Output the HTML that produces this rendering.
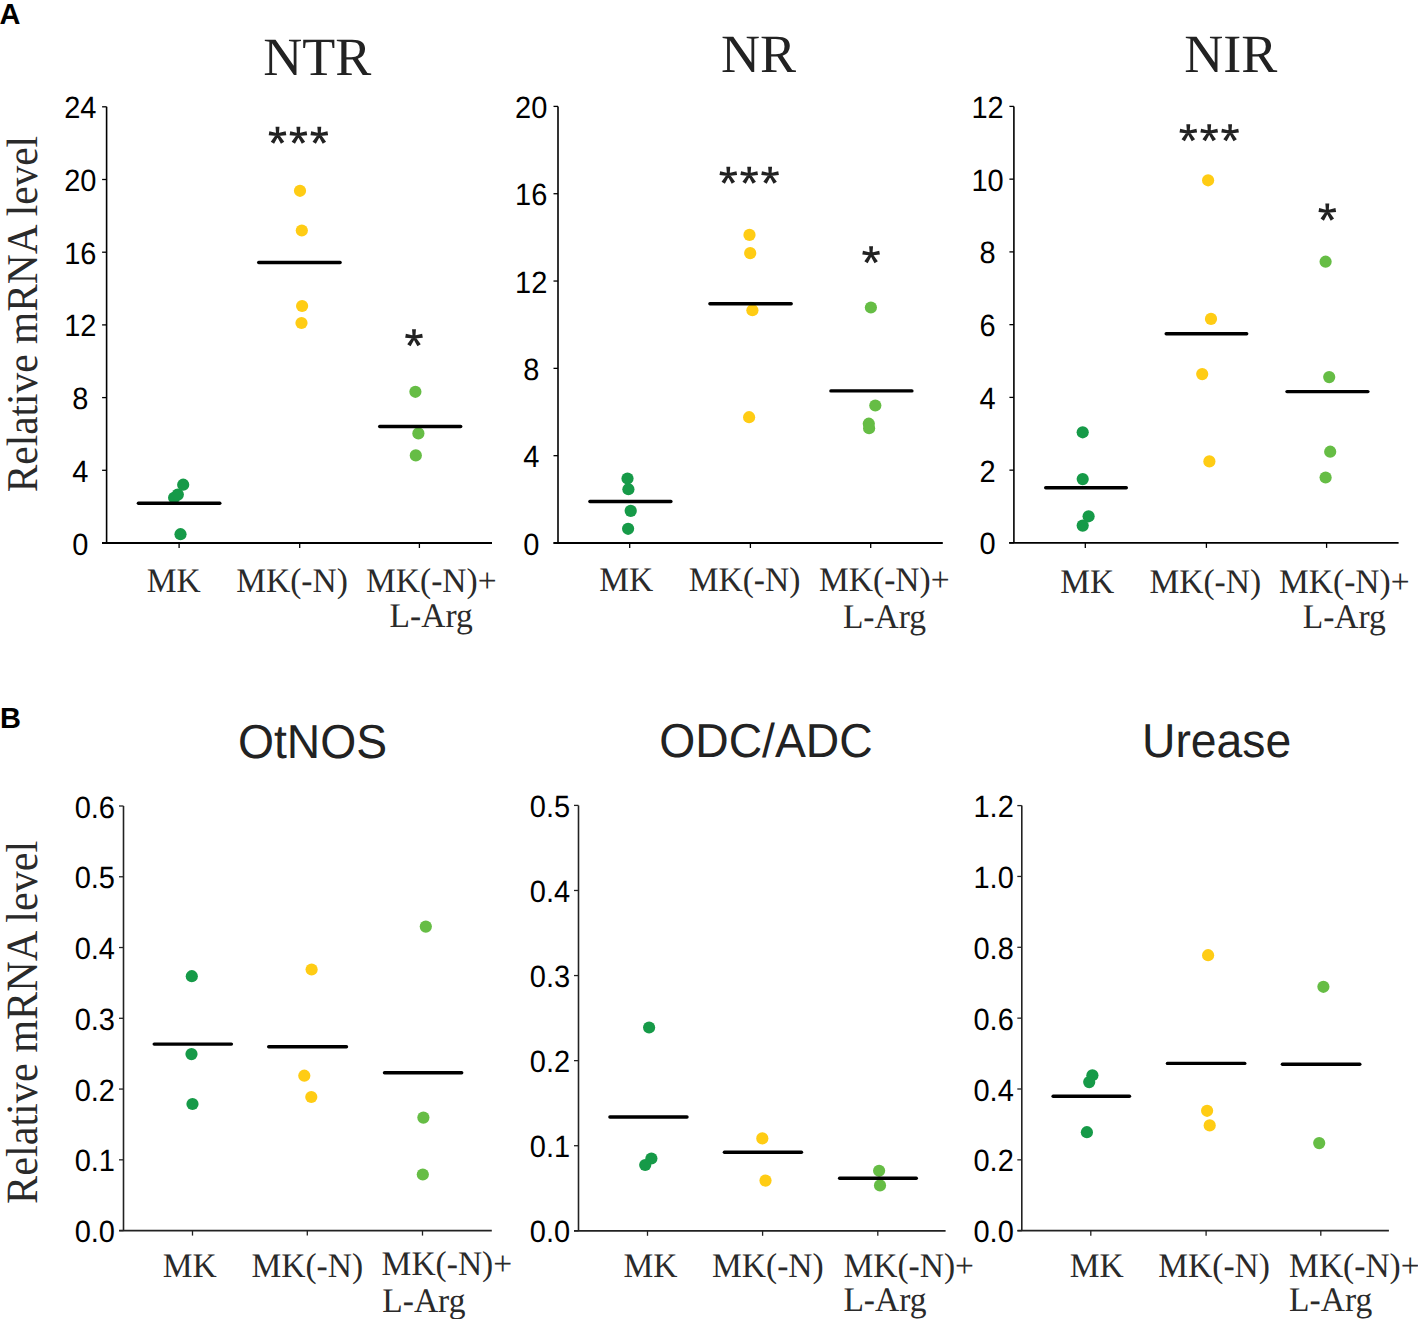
<!DOCTYPE html>
<html><head><meta charset="utf-8"><style>
html,body{margin:0;padding:0;background:#fff;width:1418px;height:1319px;overflow:hidden}
svg{display:block} text{text-rendering:geometricPrecision}
</style></head><body>
<svg width="1418" height="1319" viewBox="0 0 1418 1319">
<rect width="1418" height="1319" fill="#fff"/>
<line x1="106.6" y1="106.8" x2="106.6" y2="543.0" stroke="#000" stroke-width="1.6" stroke-linecap="butt"/>
<line x1="102" y1="543.0" x2="492" y2="543.0" stroke="#000" stroke-width="1.8" stroke-linecap="butt"/>
<line x1="102.1" y1="543.0" x2="106.6" y2="543.0" stroke="#000" stroke-width="1.3" stroke-linecap="butt"/>
<text transform="translate(80.3,554.50) scale(1,1.06)" x="0" y="0" font-family="Liberation Sans" font-size="29" text-anchor="middle" fill="#000">0</text>
<line x1="102.1" y1="470.3" x2="106.6" y2="470.3" stroke="#000" stroke-width="1.3" stroke-linecap="butt"/>
<text transform="translate(80.3,481.80) scale(1,1.06)" x="0" y="0" font-family="Liberation Sans" font-size="29" text-anchor="middle" fill="#000">4</text>
<line x1="102.1" y1="397.6" x2="106.6" y2="397.6" stroke="#000" stroke-width="1.3" stroke-linecap="butt"/>
<text transform="translate(80.3,409.10) scale(1,1.06)" x="0" y="0" font-family="Liberation Sans" font-size="29" text-anchor="middle" fill="#000">8</text>
<line x1="102.1" y1="324.9" x2="106.6" y2="324.9" stroke="#000" stroke-width="1.3" stroke-linecap="butt"/>
<text transform="translate(80.3,336.40) scale(1,1.06)" x="0" y="0" font-family="Liberation Sans" font-size="29" text-anchor="middle" fill="#000">12</text>
<line x1="102.1" y1="252.2" x2="106.6" y2="252.2" stroke="#000" stroke-width="1.3" stroke-linecap="butt"/>
<text transform="translate(80.3,263.70) scale(1,1.06)" x="0" y="0" font-family="Liberation Sans" font-size="29" text-anchor="middle" fill="#000">16</text>
<line x1="102.1" y1="179.5" x2="106.6" y2="179.5" stroke="#000" stroke-width="1.3" stroke-linecap="butt"/>
<text transform="translate(80.3,191.00) scale(1,1.06)" x="0" y="0" font-family="Liberation Sans" font-size="29" text-anchor="middle" fill="#000">20</text>
<line x1="102.1" y1="106.80000000000001" x2="106.6" y2="106.80000000000001" stroke="#000" stroke-width="1.3" stroke-linecap="butt"/>
<text transform="translate(80.3,118.30) scale(1,1.06)" x="0" y="0" font-family="Liberation Sans" font-size="29" text-anchor="middle" fill="#000">24</text>
<line x1="179.1" y1="543.0" x2="179.1" y2="548.0" stroke="#000" stroke-width="1.3" stroke-linecap="butt"/>
<line x1="299.7" y1="543.0" x2="299.7" y2="548.0" stroke="#000" stroke-width="1.3" stroke-linecap="butt"/>
<line x1="419.4" y1="543.0" x2="419.4" y2="548.0" stroke="#000" stroke-width="1.3" stroke-linecap="butt"/>
<text transform="translate(263.3,74.9) scale(1,1.0)" x="0" y="0" font-family="Liberation Serif" font-size="54" fill="#222">NTR</text>
<text transform="translate(146.8,591.80) scale(1,1.03)" x="0" y="0" font-family="Liberation Serif" font-size="33.5" fill="#2a2a2a">MK</text>
<text transform="translate(236.2,591.80) scale(1,1.03)" x="0" y="0" font-family="Liberation Serif" font-size="33.5" fill="#2a2a2a">MK(-N)</text>
<text transform="translate(366,591.80) scale(1,1.03)" x="0" y="0" font-family="Liberation Serif" font-size="33.5" fill="#2a2a2a">MK(-N)+</text>
<text transform="translate(389.6,627.30) scale(1,1.03)" x="0" y="0" font-family="Liberation Serif" font-size="33.5" fill="#2a2a2a">L-Arg</text>
<circle cx="180.5" cy="534.2" r="6.1" fill="#169a48"/>
<circle cx="174.1" cy="497.8" r="6.1" fill="#169a48"/>
<circle cx="177.8" cy="494.6" r="6.1" fill="#169a48"/>
<circle cx="183.2" cy="484.7" r="6.1" fill="#169a48"/>
<circle cx="300" cy="190.8" r="6.1" fill="#ffcc14"/>
<circle cx="301.8" cy="230.5" r="6.1" fill="#ffcc14"/>
<circle cx="302.1" cy="306" r="6.1" fill="#ffcc14"/>
<circle cx="301.5" cy="323" r="6.1" fill="#ffcc14"/>
<circle cx="415.4" cy="391.8" r="6.1" fill="#66bd45"/>
<circle cx="418.4" cy="433.4" r="6.1" fill="#66bd45"/>
<circle cx="415.8" cy="455.4" r="6.1" fill="#66bd45"/>
<line x1="138.39999999999998" y1="503.3" x2="219.8" y2="503.3" stroke="#000" stroke-width="3.4" stroke-linecap="round"/>
<line x1="258.7" y1="262.5" x2="340.1" y2="262.5" stroke="#000" stroke-width="3.4" stroke-linecap="round"/>
<line x1="379.7" y1="426.5" x2="460.7" y2="426.5" stroke="#000" stroke-width="3.4" stroke-linecap="round"/>
<line x1="558" y1="106.4" x2="558" y2="543.0" stroke="#000" stroke-width="1.6" stroke-linecap="butt"/>
<line x1="553.5" y1="543.0" x2="942.8" y2="543.0" stroke="#000" stroke-width="1.8" stroke-linecap="butt"/>
<line x1="553.5" y1="543.0" x2="558" y2="543.0" stroke="#000" stroke-width="1.3" stroke-linecap="butt"/>
<text transform="translate(531.2,554.50) scale(1,1.06)" x="0" y="0" font-family="Liberation Sans" font-size="29" text-anchor="middle" fill="#000">0</text>
<line x1="553.5" y1="455.68" x2="558" y2="455.68" stroke="#000" stroke-width="1.3" stroke-linecap="butt"/>
<text transform="translate(531.2,467.18) scale(1,1.06)" x="0" y="0" font-family="Liberation Sans" font-size="29" text-anchor="middle" fill="#000">4</text>
<line x1="553.5" y1="368.36" x2="558" y2="368.36" stroke="#000" stroke-width="1.3" stroke-linecap="butt"/>
<text transform="translate(531.2,379.86) scale(1,1.06)" x="0" y="0" font-family="Liberation Sans" font-size="29" text-anchor="middle" fill="#000">8</text>
<line x1="553.5" y1="281.03999999999996" x2="558" y2="281.03999999999996" stroke="#000" stroke-width="1.3" stroke-linecap="butt"/>
<text transform="translate(531.2,292.54) scale(1,1.06)" x="0" y="0" font-family="Liberation Sans" font-size="29" text-anchor="middle" fill="#000">12</text>
<line x1="553.5" y1="193.71999999999997" x2="558" y2="193.71999999999997" stroke="#000" stroke-width="1.3" stroke-linecap="butt"/>
<text transform="translate(531.2,205.22) scale(1,1.06)" x="0" y="0" font-family="Liberation Sans" font-size="29" text-anchor="middle" fill="#000">16</text>
<line x1="553.5" y1="106.39999999999998" x2="558" y2="106.39999999999998" stroke="#000" stroke-width="1.3" stroke-linecap="butt"/>
<text transform="translate(531.2,117.90) scale(1,1.06)" x="0" y="0" font-family="Liberation Sans" font-size="29" text-anchor="middle" fill="#000">20</text>
<line x1="629.7" y1="543.0" x2="629.7" y2="548.0" stroke="#000" stroke-width="1.3" stroke-linecap="butt"/>
<line x1="750.4" y1="543.0" x2="750.4" y2="548.0" stroke="#000" stroke-width="1.3" stroke-linecap="butt"/>
<line x1="870.7" y1="543.0" x2="870.7" y2="548.0" stroke="#000" stroke-width="1.3" stroke-linecap="butt"/>
<text transform="translate(720.9,72.3) scale(1,1.0)" x="0" y="0" font-family="Liberation Serif" font-size="54" fill="#222">NR</text>
<text transform="translate(599.3,591.20) scale(1,1.03)" x="0" y="0" font-family="Liberation Serif" font-size="33.5" fill="#2a2a2a">MK</text>
<text transform="translate(688.7,591.20) scale(1,1.03)" x="0" y="0" font-family="Liberation Serif" font-size="33.5" fill="#2a2a2a">MK(-N)</text>
<text transform="translate(819,591.20) scale(1,1.03)" x="0" y="0" font-family="Liberation Serif" font-size="33.5" fill="#2a2a2a">MK(-N)+</text>
<text transform="translate(842.9,627.80) scale(1,1.03)" x="0" y="0" font-family="Liberation Serif" font-size="33.5" fill="#2a2a2a">L-Arg</text>
<circle cx="627.5" cy="478.5" r="6.1" fill="#169a48"/>
<circle cx="628.4" cy="489.2" r="6.1" fill="#169a48"/>
<circle cx="630.7" cy="510.9" r="6.1" fill="#169a48"/>
<circle cx="628.1" cy="528.8" r="6.1" fill="#169a48"/>
<circle cx="749.5" cy="234.9" r="6.1" fill="#ffcc14"/>
<circle cx="750.2" cy="253.1" r="6.1" fill="#ffcc14"/>
<circle cx="752.4" cy="310.2" r="6.1" fill="#ffcc14"/>
<circle cx="749.1" cy="417.2" r="6.1" fill="#ffcc14"/>
<circle cx="870.9" cy="307.5" r="6.1" fill="#66bd45"/>
<circle cx="875.3" cy="405.5" r="6.1" fill="#66bd45"/>
<circle cx="868.8" cy="423.7" r="6.1" fill="#66bd45"/>
<circle cx="869.1" cy="428.2" r="6.1" fill="#66bd45"/>
<line x1="589.9000000000001" y1="501.5" x2="670.9" y2="501.5" stroke="#000" stroke-width="3.4" stroke-linecap="round"/>
<line x1="709.9000000000001" y1="303.7" x2="791.1999999999999" y2="303.7" stroke="#000" stroke-width="3.4" stroke-linecap="round"/>
<line x1="830.9000000000001" y1="390.9" x2="911.9" y2="390.9" stroke="#000" stroke-width="3.4" stroke-linecap="round"/>
<line x1="1013.9" y1="106.4" x2="1013.9" y2="542.9" stroke="#000" stroke-width="1.6" stroke-linecap="butt"/>
<line x1="1009.1" y1="542.9" x2="1398.6" y2="542.9" stroke="#000" stroke-width="1.8" stroke-linecap="butt"/>
<line x1="1009.4" y1="542.9" x2="1013.9" y2="542.9" stroke="#000" stroke-width="1.3" stroke-linecap="butt"/>
<text transform="translate(987.6,554.40) scale(1,1.06)" x="0" y="0" font-family="Liberation Sans" font-size="29" text-anchor="middle" fill="#000">0</text>
<line x1="1009.4" y1="470.15" x2="1013.9" y2="470.15" stroke="#000" stroke-width="1.3" stroke-linecap="butt"/>
<text transform="translate(987.6,481.65) scale(1,1.06)" x="0" y="0" font-family="Liberation Sans" font-size="29" text-anchor="middle" fill="#000">2</text>
<line x1="1009.4" y1="397.4" x2="1013.9" y2="397.4" stroke="#000" stroke-width="1.3" stroke-linecap="butt"/>
<text transform="translate(987.6,408.90) scale(1,1.06)" x="0" y="0" font-family="Liberation Sans" font-size="29" text-anchor="middle" fill="#000">4</text>
<line x1="1009.4" y1="324.65" x2="1013.9" y2="324.65" stroke="#000" stroke-width="1.3" stroke-linecap="butt"/>
<text transform="translate(987.6,336.15) scale(1,1.06)" x="0" y="0" font-family="Liberation Sans" font-size="29" text-anchor="middle" fill="#000">6</text>
<line x1="1009.4" y1="251.89999999999998" x2="1013.9" y2="251.89999999999998" stroke="#000" stroke-width="1.3" stroke-linecap="butt"/>
<text transform="translate(987.6,263.40) scale(1,1.06)" x="0" y="0" font-family="Liberation Sans" font-size="29" text-anchor="middle" fill="#000">8</text>
<line x1="1009.4" y1="179.14999999999998" x2="1013.9" y2="179.14999999999998" stroke="#000" stroke-width="1.3" stroke-linecap="butt"/>
<text transform="translate(987.6,190.65) scale(1,1.06)" x="0" y="0" font-family="Liberation Sans" font-size="29" text-anchor="middle" fill="#000">10</text>
<line x1="1009.4" y1="106.39999999999998" x2="1013.9" y2="106.39999999999998" stroke="#000" stroke-width="1.3" stroke-linecap="butt"/>
<text transform="translate(987.6,117.90) scale(1,1.06)" x="0" y="0" font-family="Liberation Sans" font-size="29" text-anchor="middle" fill="#000">12</text>
<line x1="1085.3" y1="542.9" x2="1085.3" y2="547.9" stroke="#000" stroke-width="1.3" stroke-linecap="butt"/>
<line x1="1206.4" y1="542.9" x2="1206.4" y2="547.9" stroke="#000" stroke-width="1.3" stroke-linecap="butt"/>
<line x1="1326.6" y1="542.9" x2="1326.6" y2="547.9" stroke="#000" stroke-width="1.3" stroke-linecap="butt"/>
<text transform="translate(1184.3,71.9) scale(1,1.0)" x="0" y="0" font-family="Liberation Serif" font-size="54" fill="#222">NIR</text>
<text transform="translate(1060.3,592.50) scale(1,1.03)" x="0" y="0" font-family="Liberation Serif" font-size="33.5" fill="#2a2a2a">MK</text>
<text transform="translate(1149.4,592.50) scale(1,1.03)" x="0" y="0" font-family="Liberation Serif" font-size="33.5" fill="#2a2a2a">MK(-N)</text>
<text transform="translate(1279,592.50) scale(1,1.03)" x="0" y="0" font-family="Liberation Serif" font-size="33.5" fill="#2a2a2a">MK(-N)+</text>
<text transform="translate(1302.7,628.40) scale(1,1.03)" x="0" y="0" font-family="Liberation Serif" font-size="33.5" fill="#2a2a2a">L-Arg</text>
<circle cx="1082.7" cy="432.3" r="6.1" fill="#169a48"/>
<circle cx="1082.7" cy="479.1" r="6.1" fill="#169a48"/>
<circle cx="1088.6" cy="516.3" r="6.1" fill="#169a48"/>
<circle cx="1082.7" cy="525.6" r="6.1" fill="#169a48"/>
<circle cx="1208.1" cy="180.3" r="6.1" fill="#ffcc14"/>
<circle cx="1211" cy="318.9" r="6.1" fill="#ffcc14"/>
<circle cx="1202.2" cy="374.1" r="6.1" fill="#ffcc14"/>
<circle cx="1209.4" cy="461.4" r="6.1" fill="#ffcc14"/>
<circle cx="1325.6" cy="261.7" r="6.1" fill="#66bd45"/>
<circle cx="1329.2" cy="377.1" r="6.1" fill="#66bd45"/>
<circle cx="1330.2" cy="451.7" r="6.1" fill="#66bd45"/>
<circle cx="1325.6" cy="477.5" r="6.1" fill="#66bd45"/>
<line x1="1045.7" y1="487.8" x2="1126.3" y2="487.8" stroke="#000" stroke-width="3.4" stroke-linecap="round"/>
<line x1="1166.2" y1="333.8" x2="1246.7" y2="333.8" stroke="#000" stroke-width="3.4" stroke-linecap="round"/>
<line x1="1287.0" y1="391.6" x2="1367.8999999999999" y2="391.6" stroke="#000" stroke-width="3.4" stroke-linecap="round"/>
<line x1="123.5" y1="806" x2="123.5" y2="1230.6" stroke="#222" stroke-width="1.6" stroke-linecap="butt"/>
<line x1="119.2" y1="1230.6" x2="491.8" y2="1230.6" stroke="#222" stroke-width="1.8" stroke-linecap="butt"/>
<line x1="119.0" y1="1230.6" x2="123.5" y2="1230.6" stroke="#222" stroke-width="1.3" stroke-linecap="butt"/>
<text transform="translate(115,1242.10) scale(1,1.06)" x="0" y="0" font-family="Liberation Sans" font-size="29" text-anchor="end" fill="#000">0.0</text>
<line x1="119.0" y1="1159.8333333333333" x2="123.5" y2="1159.8333333333333" stroke="#222" stroke-width="1.3" stroke-linecap="butt"/>
<text transform="translate(115,1171.33) scale(1,1.06)" x="0" y="0" font-family="Liberation Sans" font-size="29" text-anchor="end" fill="#000">0.1</text>
<line x1="119.0" y1="1089.0666666666666" x2="123.5" y2="1089.0666666666666" stroke="#222" stroke-width="1.3" stroke-linecap="butt"/>
<text transform="translate(115,1100.57) scale(1,1.06)" x="0" y="0" font-family="Liberation Sans" font-size="29" text-anchor="end" fill="#000">0.2</text>
<line x1="119.0" y1="1018.3" x2="123.5" y2="1018.3" stroke="#222" stroke-width="1.3" stroke-linecap="butt"/>
<text transform="translate(115,1029.80) scale(1,1.06)" x="0" y="0" font-family="Liberation Sans" font-size="29" text-anchor="end" fill="#000">0.3</text>
<line x1="119.0" y1="947.5333333333333" x2="123.5" y2="947.5333333333333" stroke="#222" stroke-width="1.3" stroke-linecap="butt"/>
<text transform="translate(115,959.03) scale(1,1.06)" x="0" y="0" font-family="Liberation Sans" font-size="29" text-anchor="end" fill="#000">0.4</text>
<line x1="119.0" y1="876.7666666666667" x2="123.5" y2="876.7666666666667" stroke="#222" stroke-width="1.3" stroke-linecap="butt"/>
<text transform="translate(115,888.27) scale(1,1.06)" x="0" y="0" font-family="Liberation Sans" font-size="29" text-anchor="end" fill="#000">0.5</text>
<line x1="119.0" y1="806.0" x2="123.5" y2="806.0" stroke="#222" stroke-width="1.3" stroke-linecap="butt"/>
<text transform="translate(115,817.50) scale(1,1.06)" x="0" y="0" font-family="Liberation Sans" font-size="29" text-anchor="end" fill="#000">0.6</text>
<line x1="192.5" y1="1230.6" x2="192.5" y2="1235.6" stroke="#222" stroke-width="1.3" stroke-linecap="butt"/>
<line x1="307.3" y1="1230.6" x2="307.3" y2="1235.6" stroke="#222" stroke-width="1.3" stroke-linecap="butt"/>
<line x1="422.5" y1="1230.6" x2="422.5" y2="1235.6" stroke="#222" stroke-width="1.3" stroke-linecap="butt"/>
<text transform="translate(238,757.5) scale(1,1.03)" x="0" y="0" font-family="Liberation Sans" font-size="46.3" fill="#222">OtNOS</text>
<text transform="translate(162.8,1277.00) scale(1,1.03)" x="0" y="0" font-family="Liberation Serif" font-size="33.5" fill="#2a2a2a">MK</text>
<text transform="translate(251.4,1277.00) scale(1,1.03)" x="0" y="0" font-family="Liberation Serif" font-size="33.5" fill="#2a2a2a">MK(-N)</text>
<text transform="translate(381.6,1275.00) scale(1,1.03)" x="0" y="0" font-family="Liberation Serif" font-size="33.5" fill="#2a2a2a">MK(-N)+</text>
<text transform="translate(382.3,1312.40) scale(1,1.03)" x="0" y="0" font-family="Liberation Serif" font-size="33.5" fill="#2a2a2a">L-Arg</text>
<circle cx="191.8" cy="976.2" r="6.1" fill="#169a48"/>
<circle cx="191.5" cy="1054.1" r="6.1" fill="#169a48"/>
<circle cx="192.5" cy="1104" r="6.1" fill="#169a48"/>
<circle cx="311.6" cy="969.5" r="6.1" fill="#ffcc14"/>
<circle cx="304.3" cy="1075.7" r="6.1" fill="#ffcc14"/>
<circle cx="311.3" cy="1097" r="6.1" fill="#ffcc14"/>
<circle cx="425.8" cy="926.6" r="6.1" fill="#66bd45"/>
<circle cx="423.4" cy="1117.6" r="6.1" fill="#66bd45"/>
<circle cx="422.8" cy="1174.5" r="6.1" fill="#66bd45"/>
<line x1="154.2" y1="1044.1" x2="231.4" y2="1044.1" stroke="#000" stroke-width="3.4" stroke-linecap="round"/>
<line x1="268.7" y1="1046.7" x2="346.5" y2="1046.7" stroke="#000" stroke-width="3.4" stroke-linecap="round"/>
<line x1="384.5" y1="1072.7" x2="461.7" y2="1072.7" stroke="#000" stroke-width="3.4" stroke-linecap="round"/>
<line x1="578.5" y1="805.4" x2="578.5" y2="1230.8" stroke="#222" stroke-width="1.6" stroke-linecap="butt"/>
<line x1="574" y1="1230.8" x2="945.6" y2="1230.8" stroke="#222" stroke-width="1.8" stroke-linecap="butt"/>
<line x1="574.0" y1="1230.8" x2="578.5" y2="1230.8" stroke="#222" stroke-width="1.3" stroke-linecap="butt"/>
<text transform="translate(570.2,1242.30) scale(1,1.06)" x="0" y="0" font-family="Liberation Sans" font-size="29" text-anchor="end" fill="#000">0.0</text>
<line x1="574.0" y1="1145.72" x2="578.5" y2="1145.72" stroke="#222" stroke-width="1.3" stroke-linecap="butt"/>
<text transform="translate(570.2,1157.22) scale(1,1.06)" x="0" y="0" font-family="Liberation Sans" font-size="29" text-anchor="end" fill="#000">0.1</text>
<line x1="574.0" y1="1060.6399999999999" x2="578.5" y2="1060.6399999999999" stroke="#222" stroke-width="1.3" stroke-linecap="butt"/>
<text transform="translate(570.2,1072.14) scale(1,1.06)" x="0" y="0" font-family="Liberation Sans" font-size="29" text-anchor="end" fill="#000">0.2</text>
<line x1="574.0" y1="975.56" x2="578.5" y2="975.56" stroke="#222" stroke-width="1.3" stroke-linecap="butt"/>
<text transform="translate(570.2,987.06) scale(1,1.06)" x="0" y="0" font-family="Liberation Sans" font-size="29" text-anchor="end" fill="#000">0.3</text>
<line x1="574.0" y1="890.48" x2="578.5" y2="890.48" stroke="#222" stroke-width="1.3" stroke-linecap="butt"/>
<text transform="translate(570.2,901.98) scale(1,1.06)" x="0" y="0" font-family="Liberation Sans" font-size="29" text-anchor="end" fill="#000">0.4</text>
<line x1="574.0" y1="805.4" x2="578.5" y2="805.4" stroke="#222" stroke-width="1.3" stroke-linecap="butt"/>
<text transform="translate(570.2,816.90) scale(1,1.06)" x="0" y="0" font-family="Liberation Sans" font-size="29" text-anchor="end" fill="#000">0.5</text>
<line x1="647.5" y1="1230.8" x2="647.5" y2="1235.8" stroke="#222" stroke-width="1.3" stroke-linecap="butt"/>
<line x1="762.6" y1="1230.8" x2="762.6" y2="1235.8" stroke="#222" stroke-width="1.3" stroke-linecap="butt"/>
<line x1="877.8" y1="1230.8" x2="877.8" y2="1235.8" stroke="#222" stroke-width="1.3" stroke-linecap="butt"/>
<text transform="translate(659.2,757.3) scale(1,1.03)" x="0" y="0" font-family="Liberation Sans" font-size="46.3" fill="#222">ODC/ADC</text>
<text transform="translate(623.4,1276.60) scale(1,1.03)" x="0" y="0" font-family="Liberation Serif" font-size="33.5" fill="#2a2a2a">MK</text>
<text transform="translate(712,1276.60) scale(1,1.03)" x="0" y="0" font-family="Liberation Serif" font-size="33.5" fill="#2a2a2a">MK(-N)</text>
<text transform="translate(843.4,1276.60) scale(1,1.03)" x="0" y="0" font-family="Liberation Serif" font-size="33.5" fill="#2a2a2a">MK(-N)+</text>
<text transform="translate(843.4,1311.30) scale(1,1.03)" x="0" y="0" font-family="Liberation Serif" font-size="33.5" fill="#2a2a2a">L-Arg</text>
<circle cx="649.1" cy="1027.5" r="6.1" fill="#169a48"/>
<circle cx="651.4" cy="1158.5" r="6.1" fill="#169a48"/>
<circle cx="645.2" cy="1165" r="6.1" fill="#169a48"/>
<circle cx="762.3" cy="1138.4" r="6.1" fill="#ffcc14"/>
<circle cx="765.5" cy="1180.6" r="6.1" fill="#ffcc14"/>
<circle cx="879.1" cy="1170.8" r="6.1" fill="#66bd45"/>
<circle cx="880" cy="1185.4" r="6.1" fill="#66bd45"/>
<line x1="609.9000000000001" y1="1117" x2="687.0" y2="1117" stroke="#000" stroke-width="3.4" stroke-linecap="round"/>
<line x1="724.4000000000001" y1="1152.3" x2="801.5" y2="1152.3" stroke="#000" stroke-width="3.4" stroke-linecap="round"/>
<line x1="839.6" y1="1178.3" x2="916.3" y2="1178.3" stroke="#000" stroke-width="3.4" stroke-linecap="round"/>
<line x1="1021.8" y1="805.6" x2="1021.8" y2="1230.7" stroke="#222" stroke-width="1.6" stroke-linecap="butt"/>
<line x1="1017.5" y1="1230.7" x2="1388.9" y2="1230.7" stroke="#222" stroke-width="1.8" stroke-linecap="butt"/>
<line x1="1017.3" y1="1230.7" x2="1021.8" y2="1230.7" stroke="#222" stroke-width="1.3" stroke-linecap="butt"/>
<text transform="translate(1013.8,1242.20) scale(1,1.06)" x="0" y="0" font-family="Liberation Sans" font-size="29" text-anchor="end" fill="#000">0.0</text>
<line x1="1017.3" y1="1159.8500000000001" x2="1021.8" y2="1159.8500000000001" stroke="#222" stroke-width="1.3" stroke-linecap="butt"/>
<text transform="translate(1013.8,1171.35) scale(1,1.06)" x="0" y="0" font-family="Liberation Sans" font-size="29" text-anchor="end" fill="#000">0.2</text>
<line x1="1017.3" y1="1089.0" x2="1021.8" y2="1089.0" stroke="#222" stroke-width="1.3" stroke-linecap="butt"/>
<text transform="translate(1013.8,1100.50) scale(1,1.06)" x="0" y="0" font-family="Liberation Sans" font-size="29" text-anchor="end" fill="#000">0.4</text>
<line x1="1017.3" y1="1018.15" x2="1021.8" y2="1018.15" stroke="#222" stroke-width="1.3" stroke-linecap="butt"/>
<text transform="translate(1013.8,1029.65) scale(1,1.06)" x="0" y="0" font-family="Liberation Sans" font-size="29" text-anchor="end" fill="#000">0.6</text>
<line x1="1017.3" y1="947.3" x2="1021.8" y2="947.3" stroke="#222" stroke-width="1.3" stroke-linecap="butt"/>
<text transform="translate(1013.8,958.80) scale(1,1.06)" x="0" y="0" font-family="Liberation Sans" font-size="29" text-anchor="end" fill="#000">0.8</text>
<line x1="1017.3" y1="876.45" x2="1021.8" y2="876.45" stroke="#222" stroke-width="1.3" stroke-linecap="butt"/>
<text transform="translate(1013.8,887.95) scale(1,1.06)" x="0" y="0" font-family="Liberation Sans" font-size="29" text-anchor="end" fill="#000">1.0</text>
<line x1="1017.3" y1="805.5999999999999" x2="1021.8" y2="805.5999999999999" stroke="#222" stroke-width="1.3" stroke-linecap="butt"/>
<text transform="translate(1013.8,817.10) scale(1,1.06)" x="0" y="0" font-family="Liberation Sans" font-size="29" text-anchor="end" fill="#000">1.2</text>
<line x1="1090.8" y1="1230.7" x2="1090.8" y2="1235.7" stroke="#222" stroke-width="1.3" stroke-linecap="butt"/>
<line x1="1206.1" y1="1230.7" x2="1206.1" y2="1235.7" stroke="#222" stroke-width="1.3" stroke-linecap="butt"/>
<line x1="1320.8" y1="1230.7" x2="1320.8" y2="1235.7" stroke="#222" stroke-width="1.3" stroke-linecap="butt"/>
<text transform="translate(1142,757.2) scale(1,1.03)" x="0" y="0" font-family="Liberation Sans" font-size="46.3" fill="#222">Urease</text>
<text transform="translate(1069.8,1276.90) scale(1,1.03)" x="0" y="0" font-family="Liberation Serif" font-size="33.5" fill="#2a2a2a">MK</text>
<text transform="translate(1158.3,1276.90) scale(1,1.03)" x="0" y="0" font-family="Liberation Serif" font-size="33.5" fill="#2a2a2a">MK(-N)</text>
<text transform="translate(1289.1,1276.90) scale(1,1.03)" x="0" y="0" font-family="Liberation Serif" font-size="33.5" fill="#2a2a2a">MK(-N)+</text>
<text transform="translate(1289.1,1311.40) scale(1,1.03)" x="0" y="0" font-family="Liberation Serif" font-size="33.5" fill="#2a2a2a">L-Arg</text>
<circle cx="1092.4" cy="1075.3" r="6.1" fill="#169a48"/>
<circle cx="1089.2" cy="1082.1" r="6.1" fill="#169a48"/>
<circle cx="1086.9" cy="1132.2" r="6.1" fill="#169a48"/>
<circle cx="1208.1" cy="955.2" r="6.1" fill="#ffcc14"/>
<circle cx="1207.1" cy="1110.8" r="6.1" fill="#ffcc14"/>
<circle cx="1209.7" cy="1125.4" r="6.1" fill="#ffcc14"/>
<circle cx="1323.4" cy="986.8" r="6.1" fill="#66bd45"/>
<circle cx="1319.2" cy="1143.1" r="6.1" fill="#66bd45"/>
<line x1="1053.1000000000001" y1="1096.3" x2="1129.5" y2="1096.3" stroke="#000" stroke-width="3.4" stroke-linecap="round"/>
<line x1="1167.4" y1="1063.4" x2="1244.8" y2="1063.4" stroke="#000" stroke-width="3.4" stroke-linecap="round"/>
<line x1="1282.4" y1="1064.3" x2="1359.8" y2="1064.3" stroke="#000" stroke-width="3.4" stroke-linecap="round"/>
<path d="M278.85,134.70 L279.45,126.80 L275.55,126.80 L276.15,134.70ZM277.73,133.37 L269.37,131.29 L268.69,135.13 L277.27,136.03ZM277.73,136.03 L286.31,135.13 L285.63,131.29 L277.27,133.37ZM276.36,133.98 L270.76,141.81 L274.07,143.87 L278.64,135.42ZM276.36,135.42 L280.93,143.87 L284.24,141.81 L278.64,133.98ZM299.75,134.70 L300.35,126.80 L296.45,126.80 L297.05,134.70ZM298.63,133.37 L290.27,131.29 L289.59,135.13 L298.17,136.03ZM298.63,136.03 L307.21,135.13 L306.53,131.29 L298.17,133.37ZM297.26,133.98 L291.66,141.81 L294.97,143.87 L299.54,135.42ZM297.26,135.42 L301.83,143.87 L305.14,141.81 L299.54,133.98ZM320.65,134.70 L321.25,126.80 L317.35,126.80 L317.95,134.70ZM319.53,133.37 L311.17,131.29 L310.49,135.13 L319.07,136.03ZM319.53,136.03 L328.11,135.13 L327.43,131.29 L319.07,133.37ZM318.16,133.98 L312.56,141.81 L315.87,143.87 L320.44,135.42ZM318.16,135.42 L322.73,143.87 L326.04,141.81 L320.44,133.98Z" fill="#222"/>
<path d="M415.35,337.20 L415.95,329.30 L412.05,329.30 L412.65,337.20ZM414.23,335.87 L405.87,333.79 L405.19,337.63 L413.77,338.53ZM414.23,338.53 L422.81,337.63 L422.13,333.79 L413.77,335.87ZM412.86,336.48 L407.26,344.31 L410.57,346.37 L415.14,337.92ZM412.86,337.92 L417.43,346.37 L420.74,344.31 L415.14,336.48Z" fill="#222"/>
<path d="M729.65,174.60 L730.25,166.70 L726.35,166.70 L726.95,174.60ZM728.53,173.27 L720.17,171.19 L719.49,175.03 L728.07,175.93ZM728.53,175.93 L737.11,175.03 L736.43,171.19 L728.07,173.27ZM727.16,173.88 L721.56,181.71 L724.87,183.77 L729.44,175.32ZM727.16,175.32 L731.73,183.77 L735.04,181.71 L729.44,173.88ZM750.55,174.60 L751.15,166.70 L747.25,166.70 L747.85,174.60ZM749.43,173.27 L741.07,171.19 L740.39,175.03 L748.97,175.93ZM749.43,175.93 L758.01,175.03 L757.33,171.19 L748.97,173.27ZM748.06,173.88 L742.46,181.71 L745.77,183.77 L750.34,175.32ZM748.06,175.32 L752.63,183.77 L755.94,181.71 L750.34,173.88ZM771.45,174.60 L772.05,166.70 L768.15,166.70 L768.75,174.60ZM770.33,173.27 L761.97,171.19 L761.29,175.03 L769.87,175.93ZM770.33,175.93 L778.91,175.03 L778.23,171.19 L769.87,173.27ZM768.96,173.88 L763.36,181.71 L766.67,183.77 L771.24,175.32ZM768.96,175.32 L773.53,183.77 L776.84,181.71 L771.24,173.88Z" fill="#222"/>
<path d="M872.45,254.10 L873.05,246.20 L869.15,246.20 L869.75,254.10ZM871.33,252.77 L862.97,250.69 L862.29,254.53 L870.87,255.43ZM871.33,255.43 L879.91,254.53 L879.23,250.69 L870.87,252.77ZM869.96,253.38 L864.36,261.21 L867.67,263.27 L872.24,254.82ZM869.96,254.82 L874.53,263.27 L877.84,261.21 L872.24,253.38Z" fill="#222"/>
<path d="M1189.65,132.10 L1190.25,124.20 L1186.35,124.20 L1186.95,132.10ZM1188.53,130.77 L1180.17,128.69 L1179.49,132.53 L1188.07,133.43ZM1188.53,133.43 L1197.11,132.53 L1196.43,128.69 L1188.07,130.77ZM1187.16,131.38 L1181.56,139.21 L1184.87,141.27 L1189.44,132.82ZM1187.16,132.82 L1191.73,141.27 L1195.04,139.21 L1189.44,131.38ZM1210.55,132.10 L1211.15,124.20 L1207.25,124.20 L1207.85,132.10ZM1209.43,130.77 L1201.07,128.69 L1200.39,132.53 L1208.97,133.43ZM1209.43,133.43 L1218.01,132.53 L1217.33,128.69 L1208.97,130.77ZM1208.06,131.38 L1202.46,139.21 L1205.77,141.27 L1210.34,132.82ZM1208.06,132.82 L1212.63,141.27 L1215.94,139.21 L1210.34,131.38ZM1231.45,132.10 L1232.05,124.20 L1228.15,124.20 L1228.75,132.10ZM1230.33,130.77 L1221.97,128.69 L1221.29,132.53 L1229.87,133.43ZM1230.33,133.43 L1238.91,132.53 L1238.23,128.69 L1229.87,130.77ZM1228.96,131.38 L1223.36,139.21 L1226.67,141.27 L1231.24,132.82ZM1228.96,132.82 L1233.53,141.27 L1236.84,139.21 L1231.24,131.38Z" fill="#222"/>
<path d="M1328.65,211.50 L1329.25,203.60 L1325.35,203.60 L1325.95,211.50ZM1327.53,210.17 L1319.17,208.09 L1318.49,211.93 L1327.07,212.83ZM1327.53,212.83 L1336.11,211.93 L1335.43,208.09 L1327.07,210.17ZM1326.16,210.78 L1320.56,218.61 L1323.87,220.67 L1328.44,212.22ZM1326.16,212.22 L1330.73,220.67 L1334.04,218.61 L1328.44,210.78Z" fill="#222"/>
<text transform="translate(37.0,314.1) rotate(-90) scale(1,1.06)" x="0" y="0" text-anchor="middle" font-family="Liberation Serif" font-size="41.4" fill="#2a2a2a">Relative mRNA level</text>
<text transform="translate(36.5,1022.3) rotate(-90) scale(1,1.06)" x="0" y="0" text-anchor="middle" font-family="Liberation Serif" font-size="42.2" fill="#2a2a2a">Relative mRNA level</text>
<text x="-0.5" y="23.9" font-family="Liberation Sans" font-size="29" font-weight="700" text-anchor="start" fill="#000" >A</text>
<text x="0" y="728.1" font-family="Liberation Sans" font-size="29" font-weight="700" text-anchor="start" fill="#000" >B</text>
</svg></body></html>
